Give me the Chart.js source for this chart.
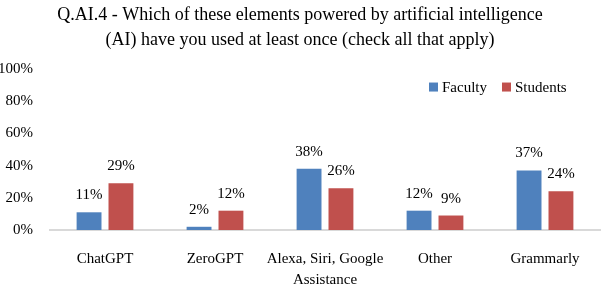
<!DOCTYPE html>
<html>
<head>
<meta charset="utf-8">
<script src="https://cdn.jsdelivr.net/npm/chart.js@4/dist/chart.umd.min.js"></script>
<style>
  html, body { margin: 0; padding: 0; background: #fff; }
  #wrap { width: 608px; height: 288px; }
</style>
</head>
<body>
<div id="wrap"><canvas id="bar_chart"></canvas></div>
<script>
const categories = ["ChatGPT", "ZeroGPT", ["Alexa, Siri, Google", "Assistance"], "Other", "Grammarly"];
const faculty = [11, 2, 38, 12, 37];
const students = [29, 12, 26, 9, 24];
const yTicks = [0, 20, 40, 60, 80, 100];
const titleLines = [
  "Q.AI.4 - Which of these elements powered by artificial intelligence",
  "(AI) have you used at least once (check all that apply)"
];

const FONT = "'Liberation Serif', 'Times New Roman', serif";

// draws the % value above each bar
const valueLabels = {
  id: "valueLabels",
  afterDatasetsDraw(chart) {
    const ctx = chart.ctx;
    ctx.save();
    ctx.font = "15px " + FONT;
    ctx.fillStyle = "#000";
    ctx.textAlign = "center";
    ctx.textBaseline = "alphabetic";
    chart.data.datasets.forEach((ds, i) => {
      chart.getDatasetMeta(i).data.forEach((bar, j) => {
        ctx.fillText(ds.data[j] + "%", bar.x, bar.y - 13);
      });
    });
    ctx.restore();
  }
};

// legend sitting inside the plot, top right
const insideLegend = {
  id: "insideLegend",
  afterDraw(chart) {
    const ctx = chart.ctx;
    const area = chart.chartArea;
    let x = area.right - 171;
    const y = area.top + 18;
    ctx.save();
    ctx.font = "15px " + FONT;
    ctx.textBaseline = "middle";
    ctx.textAlign = "left";
    chart.data.datasets.forEach((ds) => {
      ctx.fillStyle = ds.backgroundColor;
      ctx.fillRect(x, y - 4.5, 9, 9);
      ctx.fillStyle = "#000";
      ctx.fillText(ds.label, x + 13, y + 1);
      x += 13 + ctx.measureText(ds.label).width + 15;
    });
    ctx.restore();
  }
};

const ctx = document.getElementById("bar_chart").getContext("2d");
new Chart(ctx, {
  type: "bar",
  data: {
    labels: categories,
    datasets: [
      {
        label: "Faculty",
        data: faculty,
        backgroundColor: "#4F81BD",
        borderWidth: 0,
        barPercentage: 0.78,
        categoryPercentage: 0.58
      },
      {
        label: "Students",
        data: students,
        backgroundColor: "#C0504D",
        borderWidth: 0,
        barPercentage: 0.78,
        categoryPercentage: 0.58
      }
    ]
  },
  options: {
    responsive: true,
    maintainAspectRatio: false,
    animation: false,
    layout: { padding: { left: 0, right: 8, top: 3, bottom: 2 } },
    plugins: {
      title: {
        display: true,
        text: titleLines,
        color: "#000",
        font: { family: FONT, size: 18, weight: "normal", lineHeight: 1.39 },
        padding: { top: 0, bottom: 16 }
      },
      legend: { display: false },
      tooltip: { enabled: false }
    },
    scales: {
      x: {
        afterFit(scale) {
          scale.height = 56;
        },
        grid: { display: false, drawTicks: false },
        border: { display: true, color: "#d9d9d9", width: 2 },
        ticks: {
          color: "#000",
          font: { family: FONT, size: 15, lineHeight: 1.4 },
          padding: 19,
          maxRotation: 0,
          autoSkip: false
        }
      },
      y: {
        min: 0,
        max: 100,
        afterBuildTicks(axis) {
          axis.ticks = yTicks.map((v) => ({ value: v }));
        },
        afterFit(scale) {
          scale.width = 50;
        },
        grid: { display: false, drawTicks: false },
        border: { display: false },
        ticks: {
          color: "#000",
          font: { family: FONT, size: 15 },
          padding: 17,
          callback: (v) => v + "%"
        }
      }
    }
  },
  plugins: [valueLabels, insideLegend]
});
</script>
</body>
</html>
